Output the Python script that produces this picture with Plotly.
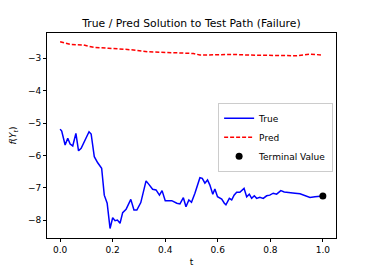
import plotly.graph_objects as go

true_t = [0.0, 0.006, 0.019, 0.029, 0.038, 0.048, 0.06, 0.07, 0.08, 0.095, 0.11, 0.118,
          0.13, 0.143, 0.158, 0.168, 0.179, 0.19, 0.2, 0.209, 0.218, 0.228, 0.238, 0.251,
          0.269, 0.281, 0.292, 0.307, 0.317, 0.327, 0.34, 0.352, 0.365, 0.378, 0.388, 0.4,
          0.416, 0.425, 0.444, 0.456, 0.469, 0.479, 0.49, 0.5, 0.513, 0.526, 0.532, 0.541,
          0.551, 0.561, 0.57, 0.581, 0.589, 0.599, 0.615, 0.625, 0.631, 0.644, 0.653, 0.662,
          0.672, 0.684, 0.7, 0.71, 0.72, 0.729, 0.739, 0.748, 0.76, 0.773, 0.786, 0.798,
          0.811, 0.824, 0.84, 0.853, 0.875, 0.894, 0.913, 0.932, 0.951, 0.97, 0.989, 1.0]
true_v = [-5.19, -5.25, -5.68, -5.47, -5.65, -5.71, -5.32, -5.86, -5.78, -5.53, -5.27, -5.34,
          -6.04, -6.23, -6.40, -7.23, -7.48, -8.26, -7.93, -8.02, -8.00, -8.10, -7.77, -7.67,
          -7.36, -7.69, -7.69, -7.46, -7.12, -6.79, -6.92, -7.05, -7.07, -7.23, -7.09, -7.40,
          -7.40, -7.40, -7.48, -7.50, -7.31, -7.59, -7.38, -7.45, -7.17, -6.81, -6.69, -6.71,
          -6.86, -6.76, -6.92, -7.20, -7.04, -7.28, -7.35, -7.48, -7.53, -7.33, -7.38, -7.23,
          -7.14, -7.14, -7.02, -7.28, -7.20, -7.33, -7.25, -7.33, -7.30, -7.33, -7.25, -7.23,
          -7.17, -7.20, -7.09, -7.13, -7.14, -7.17, -7.19, -7.25, -7.30, -7.28, -7.26, -7.26]

pred_t = [0.0, 0.038, 0.089, 0.127, 0.184, 0.228, 0.279, 0.336, 0.38, 0.431, 0.507, 0.532,
          0.596, 0.659, 0.722, 0.785, 0.848, 0.9, 0.95, 0.975, 1.0]
pred_v = [-2.49, -2.57, -2.59, -2.66, -2.69, -2.71, -2.74, -2.80, -2.81, -2.83, -2.85, -2.90,
          -2.89, -2.88, -2.90, -2.90, -2.92, -2.92, -2.87, -2.88, -2.90]

terminal_t = [1.0]
terminal_v = [-7.26]

x_ticks = [0.0, 0.2, 0.4, 0.6, 0.8, 1.0]
y_ticks = [-8, -7, -6, -5, -4, -3]

FONT = "DejaVu Sans"

# The page body adds an 8px margin, so the figure is drawn 8px smaller and offset.
W, H = 366, 265

fig = go.Figure()
fig.add_trace(go.Scatter(x=true_t, y=true_v, mode="lines", name="True",
                         line=dict(color="#0000ff", width=1.5)))
fig.add_trace(go.Scatter(x=pred_t, y=pred_v, mode="lines", name="Pred",
                         line=dict(color="#ff0000", width=1.5, dash="4px,2px")))
fig.add_trace(go.Scatter(x=terminal_t, y=terminal_v, mode="markers", name="Terminal Value",
                         marker=dict(color="black", size=7)))

axis_common = dict(showline=True, linecolor="black", linewidth=1, mirror=True,
                   ticks="outside", ticklen=3, tickcolor="black", tickwidth=1,
                   showgrid=False, zeroline=False, automargin=False,
                   tickfont=dict(family=FONT, size=9, color="black"))

fig.update_layout(
    width=W, height=H,
    margin=dict(l=39, r=38, t=25, b=35),
    paper_bgcolor="white", plot_bgcolor="white",
    title=dict(text="True / Pred Solution to Test Path (Failure)",
               font=dict(family=FONT, size=10.8, color="black"),
               x=183.5 / W, xanchor="center", y=1 - 15 / H, yanchor="middle"),
    xaxis=dict(range=[-0.05, 1.05], tickvals=x_ticks, tickformat=".1f",
               title=dict(text="t", font=dict(family=FONT, size=9, color="black"), standoff=4),
               **axis_common),
    yaxis=dict(range=[-8.555, -2.218], tickvals=y_ticks,
               title=dict(text="<i>f</i>(<i>Y<sub>t</sub></i>)",
                          font=dict(family=FONT, size=9, color="black"), standoff=13),
               **axis_common),
    legend=dict(x=0.99, y=0.66, xanchor="right", yanchor="top",
                bgcolor="white", bordercolor="#cccccc", borderwidth=1,
                font=dict(family=FONT, size=9, color="black"),
                itemwidth=30, tracegroupgap=0),
    showlegend=True,
)

fig.write_html("out.html")
